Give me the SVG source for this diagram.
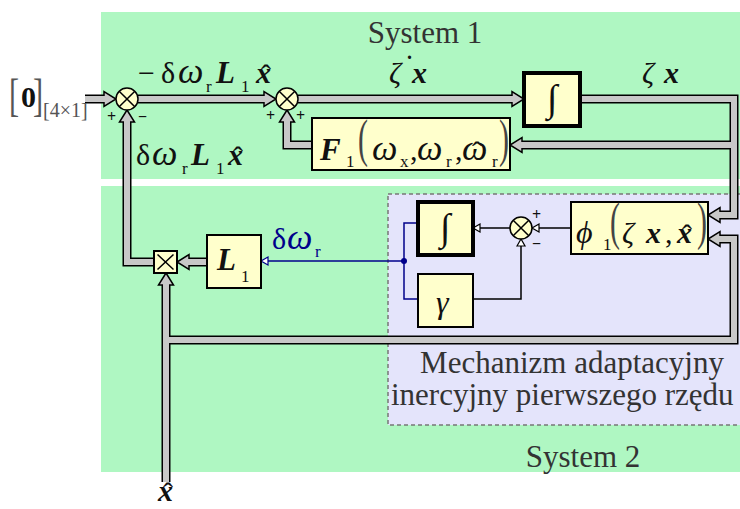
<svg xmlns="http://www.w3.org/2000/svg" width="740" height="509" viewBox="0 0 740 509">
<style>
text{font-family:"Liberation Serif","Times New Roman",serif;fill:#111}
.sys{font-size:31px;fill:#333}
.mech{font-size:31px;fill:#333}
.m{font-size:30px}
.w{font-size:36px;font-style:italic}
.i{font-style:italic}
.bi{font-style:italic;font-weight:bold}
.sub{font-size:17px}
.par{font-size:30px;fill:#444}
.sg{font-size:16px;font-weight:bold}
.blk{fill:#ffffcc;stroke:#000;stroke-width:2}
.blk3{fill:#ffffcc;stroke:#000;stroke-width:4}
.po{fill:none;stroke:#000;stroke-width:9;stroke-linejoin:miter}
.pi{fill:none;stroke:#c8c8c8;stroke-width:6;stroke-linejoin:miter}
.ah{fill:#c8c8c8;stroke:#000;stroke-width:1.5;stroke-linejoin:miter}
.thin{fill:none;stroke:#000;stroke-width:1.5}
.blue{fill:none;stroke:#00008b;stroke-width:1.5}
.ta{fill:#fff;stroke:#000;stroke-width:1.2}
.tab{fill:#fff;stroke:#00008b;stroke-width:1.2}
.sum{fill:#ffffcc;stroke:#000;stroke-width:1.5}
</style>
<defs>
<path id="pa" d="M-12,-3 L-12,-7.5 L0,0 L-12,7.5 L-12,3"/>
<path id="ta" d="M-7,-4 L0,0 L-7,4 Z"/>
</defs>

<!-- backgrounds -->
<rect x="101" y="12" width="640" height="167" fill="#aff7c2"/>
<rect x="101" y="186" width="640" height="286" fill="#aff7c2"/>
<rect x="388" y="194" width="360" height="231" fill="#e4e4fb" stroke="#777" stroke-width="1.5" stroke-dasharray="4,3"/>
<text class="sys" x="425" y="43" text-anchor="middle">System 1</text>
<text class="sys" x="583" y="467" text-anchor="middle">System 2</text>
<text class="mech" x="572" y="373" text-anchor="middle">Mechanizm adaptacyjny</text>
<text class="mech" x="391" y="405">inercyjny pierwszego rzędu</text>

<!-- connectors -->
<g id="connectors">
<g class="po">
<path d="M85,99 H104"/>
<path d="M138,99 H264"/>
<path d="M298,99 H512"/>
<path d="M580,99 H734 V215 H720"/>
<path d="M734,145 H522"/>
<path d="M312,145 H287 V122"/>
<path d="M154,262 H127 V122"/>
<path d="M207,262 H189"/>
<path d="M166,482 V285"/>
<path d="M166,340 H734 V239 H720"/>
</g>
<g class="pi">
<path d="M85,99 H105"/>
<path d="M138,99 H265"/>
<path d="M298,99 H513"/>
<path d="M580,99 H734 V215 H719"/>
<path d="M734,145 H521"/>
<path d="M312,145 H287 V121"/>
<path d="M154,262 H127 V121"/>
<path d="M207,262 H188"/>
<path d="M166,482 V284"/>
<path d="M166,340 H734 V239 H719"/>
</g>
<g class="ah">
<use href="#pa" transform="translate(116,99)"/>
<use href="#pa" transform="translate(276,99)"/>
<use href="#pa" transform="translate(524,99)"/>
<use href="#pa" transform="translate(708,215) rotate(180)"/>
<use href="#pa" transform="translate(510,145) rotate(180)"/>
<use href="#pa" transform="translate(287,110) rotate(-90)"/>
<use href="#pa" transform="translate(127,110) rotate(-90)"/>
<use href="#pa" transform="translate(177,262) rotate(180)"/>
<use href="#pa" transform="translate(166,273) rotate(-90)"/>
<use href="#pa" transform="translate(708,239) rotate(180)"/>
</g>
<path class="thin" d="M571,228 H539"/>
<path class="thin" d="M510,228 H480"/>
<path class="thin" d="M473,299 H521 V246"/>
<use href="#ta" class="ta" transform="translate(532,228) rotate(180)"/>
<use href="#ta" class="ta" transform="translate(473,228) rotate(180)"/>
<use href="#ta" class="ta" transform="translate(521,239) rotate(-90)"/>
<path class="blue" d="M418,223 H404 V299 H418"/>
<path class="blue" d="M404,261 H268"/>
<use href="#ta" class="tab" transform="translate(261,261) rotate(180)"/>
<circle cx="404" cy="261" r="3" fill="#00008b"/>
</g>

<!-- nodes -->
<g id="sum1">
<circle class="sum" cx="127" cy="99" r="11"/>
<path class="thin" d="M119.2,91.2 L134.8,106.8 M134.8,91.2 L119.2,106.8"/>
<text class="sg" x="107" y="122">+</text>
<text class="sg" x="138" y="122">−</text>
</g>
<g id="sum2">
<circle class="sum" cx="287" cy="99" r="11"/>
<path class="thin" d="M279.2,91.2 L294.8,106.8 M294.8,91.2 L279.2,106.8"/>
<text class="sg" x="266" y="121">+</text>
<text class="sg" x="296" y="121">+</text>
</g>
<g id="sum3">
<circle class="sum" cx="521" cy="228" r="11"/>
<path class="thin" d="M513.2,220.2 L528.8,235.8 M528.8,220.2 L513.2,235.8"/>
<text class="sg" x="532" y="220">+</text>
<text class="sg" x="532" y="249">−</text>
</g>
<g id="integrator1">
<rect class="blk3" x="524" y="73" width="56" height="53"/>
<text x="552" y="111" text-anchor="middle" style="font-size:38px;font-weight:bold">∫</text>
</g>
<g id="F1">
<rect class="blk" x="312" y="118" width="198" height="52"/>
<text class="m bi" x="320" y="160" style="font-size:31px">F</text>
<text class="sub" x="346" y="167">1</text>
<text class="par" transform="translate(358,156) scale(1,1.75)">(</text>
<text class="w" x="372" y="160">ω</text>
<text class="sub" x="400" y="167">x</text>
<text class="m" x="410" y="160">,</text>
<text class="w" x="417" y="160">ω</text>
<text class="sub" x="446" y="167">r</text>
<text class="m" x="455" y="160">,</text>
<text class="w" x="462" y="160">ω</text>
<text class="m" x="472" y="162">ˆ</text>
<text class="sub" x="492" y="167">r</text>
<text class="par" transform="translate(499,156) scale(1,1.75)">)</text>
</g>
<g id="phi1">
<rect class="blk" x="571" y="202" width="137" height="52"/>
<text class="m i" x="576" y="243" style="font-size:32px">ϕ</text>
<text class="sub" x="603" y="250">1</text>
<text class="par" transform="translate(610,239) scale(1,1.75)">(</text>
<text class="m i" x="622" y="243">ζ</text>
<text class="m bi" x="646" y="243">x</text>
<text class="m" x="665" y="243">,</text>
<text class="m bi" x="677" y="243">x</text>
<text class="m" x="682" y="245">ˆ</text>
<text class="par" transform="translate(697,239) scale(1,1.75)">)</text>
</g>
<g id="integrator2">
<rect class="blk3" x="418" y="202" width="55" height="53"/>
<text x="445" y="240" text-anchor="middle" style="font-size:38px;font-weight:bold">∫</text>
</g>
<g id="gamma">
<rect class="blk" x="418" y="274" width="55" height="53"/>
<text class="m i" x="436" y="313" style="font-size:32px">γ</text>
</g>
<g id="L1">
<rect class="blk" x="207" y="235" width="54" height="53"/>
<text class="m bi" x="217" y="270" style="font-size:31px">L</text>
<text class="sub" x="241" y="282">1</text>
</g>
<g id="mult">
<rect class="blk" x="154" y="251" width="23" height="22" stroke-width="1.5"/>
<path class="thin" d="M157.5,254.5 L173.5,269.5 M173.5,254.5 L157.5,269.5"/>
</g>

<!-- labels -->
<g id="labels">
<text style="font-size:38px;fill:#555" transform="translate(9,111) scale(0.8,1.2)">[</text>
<text style="font-size:30px;font-weight:bold" x="21" y="107">0</text>
<text style="font-size:38px;fill:#555" transform="translate(33,111) scale(0.8,1.2)">]</text>
<text style="font-size:20px;fill:#555" x="43" y="117">[4×1]</text>

<text class="m" x="138" y="83">−</text>
<text class="m" x="161" y="83">δ</text>
<text class="w" x="178" y="83">ω</text>
<text class="sub" x="206" y="92">r</text>
<text class="m bi" x="216" y="83" style="font-size:31px">L</text>
<text class="sub" x="241" y="92">1</text>
<text class="m bi" x="256" y="83">x</text>
<text class="m" x="261" y="85">ˆ</text>

<text class="m" x="136" y="165">δ</text>
<text class="w" x="152" y="165">ω</text>
<text class="sub" x="182" y="174">r</text>
<text class="m bi" x="191" y="165" style="font-size:31px">L</text>
<text class="sub" x="216" y="174">1</text>
<text class="m bi" x="228" y="165">x</text>
<text class="m" x="233" y="167">ˆ</text>

<text class="m i" x="389" y="83">ζ</text>
<text x="407" y="59" style="font-size:20px;font-weight:bold">.</text>
<text class="m bi" x="412" y="83">x</text>

<text class="m i" x="642" y="83">ζ</text>
<text class="m bi" x="664" y="83">x</text>

<text x="272" y="249" style="font-size:30px;fill:#00008b">δ</text>
<text class="w" x="287" y="249" style="fill:#00008b">ω</text>
<text class="sub" x="315" y="257" style="fill:#00008b">r</text>

<text class="m bi" x="158" y="501">x</text>
<text class="m" x="163" y="503">ˆ</text>
</g>
</svg>
